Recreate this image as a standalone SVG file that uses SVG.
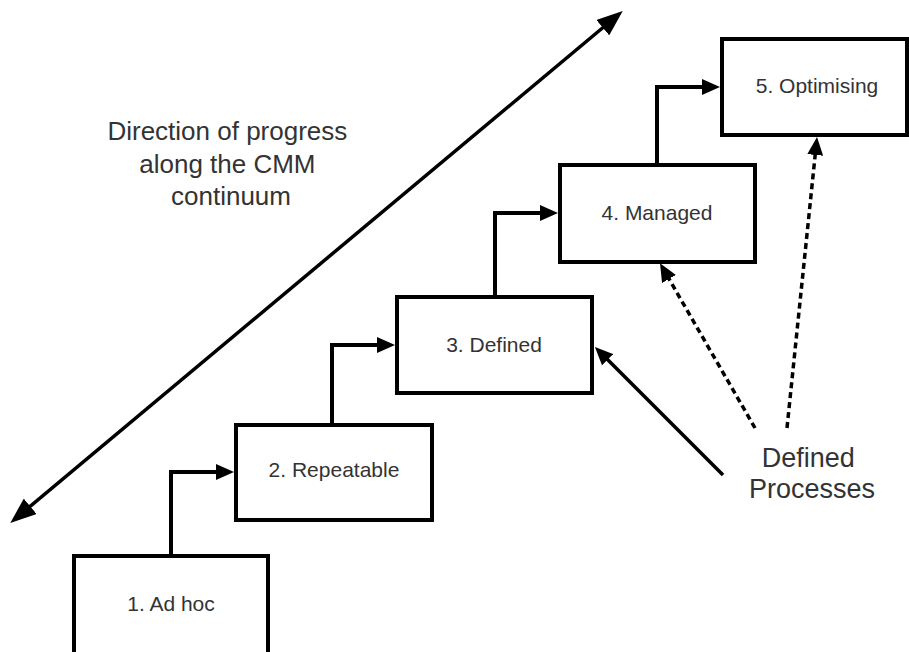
<svg xmlns="http://www.w3.org/2000/svg" width="909" height="652" viewBox="0 0 909 652">
  <style>
    .box { fill: #ffffff; stroke: #000000; stroke-width: 4; }
    .label { font-family: "Liberation Sans", Arial, sans-serif; font-size: 21px; fill: #333333; text-anchor: middle; }
    .note { font-family: "Liberation Sans", Arial, sans-serif; font-size: 26px; fill: #333333; text-anchor: middle; }
    .step { fill: none; stroke: #000000; stroke-width: 4; stroke-linejoin: miter; }
    .pointer { fill: none; stroke: #000000; stroke-width: 3.5; }
    .dashed { fill: none; stroke: #000000; stroke-width: 3.5; stroke-dasharray: 6 4; }
  </style>
  <defs>
    <marker id="head" markerUnits="userSpaceOnUse" markerWidth="18" markerHeight="16" refX="8" refY="8" orient="auto">
      <path d="M0,0 L18,8 L0,16 z" fill="#000000"/>
    </marker>
    <marker id="bigHead" markerUnits="userSpaceOnUse" markerWidth="26" markerHeight="20" refX="12" refY="10" orient="auto-start-reverse">
      <path d="M0,0 L26,10 L0,20 z" fill="#000000"/>
    </marker>
  </defs>

  <rect width="909" height="652" fill="#ffffff"/>

  <!-- connectors -->
  <g id="connectors">
    <!-- overall direction of progress -->
    <line x1="21" y1="514" x2="612" y2="20" class="pointer" marker-start="url(#bigHead)" marker-end="url(#bigHead)"/>
    <!-- step-ups between levels -->
    <path d="M171,556 V472 H224" class="step" marker-end="url(#head)"/>
    <path d="M332,425 V345 H385" class="step" marker-end="url(#head)"/>
    <path d="M495,297 V213 H548" class="step" marker-end="url(#head)"/>
    <path d="M657,165 V87 H710" class="step" marker-end="url(#head)"/>
    <!-- defined processes pointers -->
    <line x1="723" y1="475" x2="602" y2="354" class="pointer" marker-end="url(#head)"/>
    <line x1="755" y1="428" x2="665" y2="272" class="dashed" marker-end="url(#head)"/>
    <line x1="787" y1="428" x2="816" y2="147" class="dashed" marker-end="url(#head)"/>
  </g>

  <g id="level1">
    <rect x="74" y="556" width="194" height="120" class="box"/>
    <text x="171" y="611" class="label">1. Ad hoc</text>
  </g>
  <g id="level2">
    <rect x="236" y="425" width="196" height="95" class="box"/>
    <text x="334" y="477" class="label">2. Repeatable</text>
  </g>
  <g id="level3">
    <rect x="397" y="297" width="195" height="96" class="box"/>
    <text x="494" y="352" class="label">3. Defined</text>
  </g>
  <g id="level4">
    <rect x="560" y="165" width="195" height="97" class="box"/>
    <text x="657" y="220" class="label">4. Managed</text>
  </g>
  <g id="level5">
    <rect x="722" y="39" width="185" height="96" class="box"/>
    <text x="817" y="93" class="label">5. Optimising</text>
  </g>

  <g id="direction-label">
    <text class="note">
      <tspan x="231" y="140">Direction of progress</tspan>
      <tspan x="231" y="173">along the CMM</tspan>
      <tspan x="231" y="205">continuum</tspan>
    </text>
  </g>

  <g id="defined-processes">
    <text class="note" style="font-size:27px">
      <tspan x="812" y="467">Defined</tspan>
      <tspan x="812" y="498">Processes</tspan>
    </text>
  </g>
</svg>
